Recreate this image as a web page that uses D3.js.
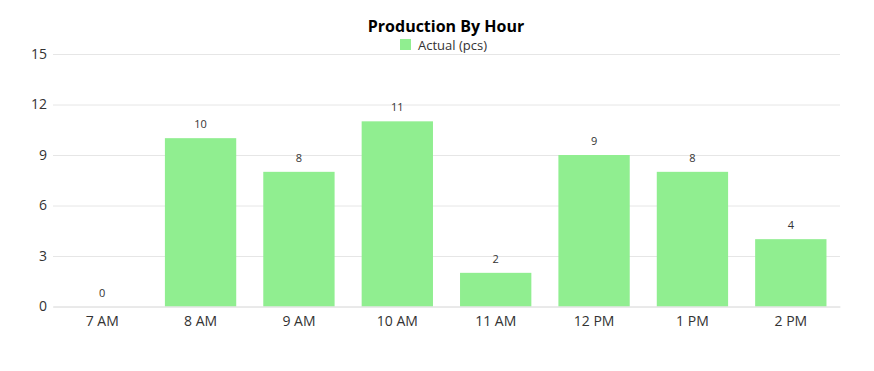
<!DOCTYPE html>
<head>
  <meta charset="utf-8">
  <script src="https://cdnjs.cloudflare.com/ajax/libs/d3/7.8.5/d3.min.js"></script>
  <style>
    body { margin:0; background:#fff; font-family:"Open Sans", "Noto Sans", sans-serif; }
    svg { display:block; }
  </style>
</head>
<body>
  <script>
    var hours = ["7 AM", "8 AM", "9 AM", "10 AM", "11 AM", "12 PM", "1 PM", "2 PM"];
    var actual = [0, 10, 8, 11, 2, 9, 8, 4];
    var yTicks = [0, 3, 6, 9, 12, 15];

    var width = 874, height = 371;
    var margin = {top: 54, right: 34, bottom: 65, left: 53};

    var svg = d3.select("body").append("svg")
      .attr("width", width)
      .attr("height", height);

    var x = d3.scaleBand()
      .domain(hours)
      .range([margin.left, width - margin.right])
      .paddingInner(0.275)
      .paddingOuter(0.1375);

    var y = d3.scaleLinear()
      .domain([0, 15])
      .range([height - margin.bottom + 0.5, margin.top]);

    // grid + y labels
    var yAxis = svg.append("g")
      .attr("transform", "translate(" + margin.left + ",0)")
      .call(d3.axisLeft(y).tickValues(yTicks).tickSize(-(width - margin.left - margin.right)).tickPadding(6));
    yAxis.select(".domain").remove();
    yAxis.selectAll("line").attr("stroke", "#e6e6e6");
    yAxis.selectAll("text").attr("fill", "#333").style("font-size", "14px").style("font-family", "'Open Sans', sans-serif");

    // bars
    svg.append("g").selectAll("rect").data(actual).enter().append("rect")
      .attr("x", function(d, i){ return x(hours[i]); })
      .attr("y", function(d){ return y(d); })
      .attr("width", x.bandwidth())
      .attr("height", function(d){ return y(0) - y(d); })
      .attr("fill", "#90ee90");

    // value labels
    svg.append("g").selectAll("text").data(actual).enter().append("text")
      .attr("x", function(d, i){ return x(hours[i]) + x.bandwidth() / 2; })
      .attr("y", function(d){ return y(d) - 10; })
      .attr("text-anchor", "middle")
      .attr("fill", "#333")
      .style("font-size", "11px")
      .text(function(d){ return d; });

    // x axis
    var xAxis = svg.append("g")
      .attr("transform", "translate(0," + y(0) + ")")
      .call(d3.axisBottom(x).tickSize(0).tickPadding(10));
    xAxis.select(".domain").attr("stroke", "#e0e0e0");
    xAxis.selectAll("text").attr("fill", "#333").style("font-size", "14px").style("font-family", "'Open Sans', sans-serif");

    // title
    svg.append("text")
      .attr("x", 446)
      .attr("y", 32)
      .attr("text-anchor", "middle")
      .style("font-size", "16px")
      .style("font-weight", "bold")
      .attr("fill", "#000")
      .text("Production By Hour");

    // legend
    var legend = svg.append("g").attr("transform", "translate(400,39)");
    legend.append("rect").attr("width", 11).attr("height", 11).attr("fill", "#90ee90");
    legend.append("text").attr("x", 18).attr("y", 10.5)
      .style("font-size", "13px").attr("fill", "#333")
      .text("Actual (pcs)");
  </script>
</body>
